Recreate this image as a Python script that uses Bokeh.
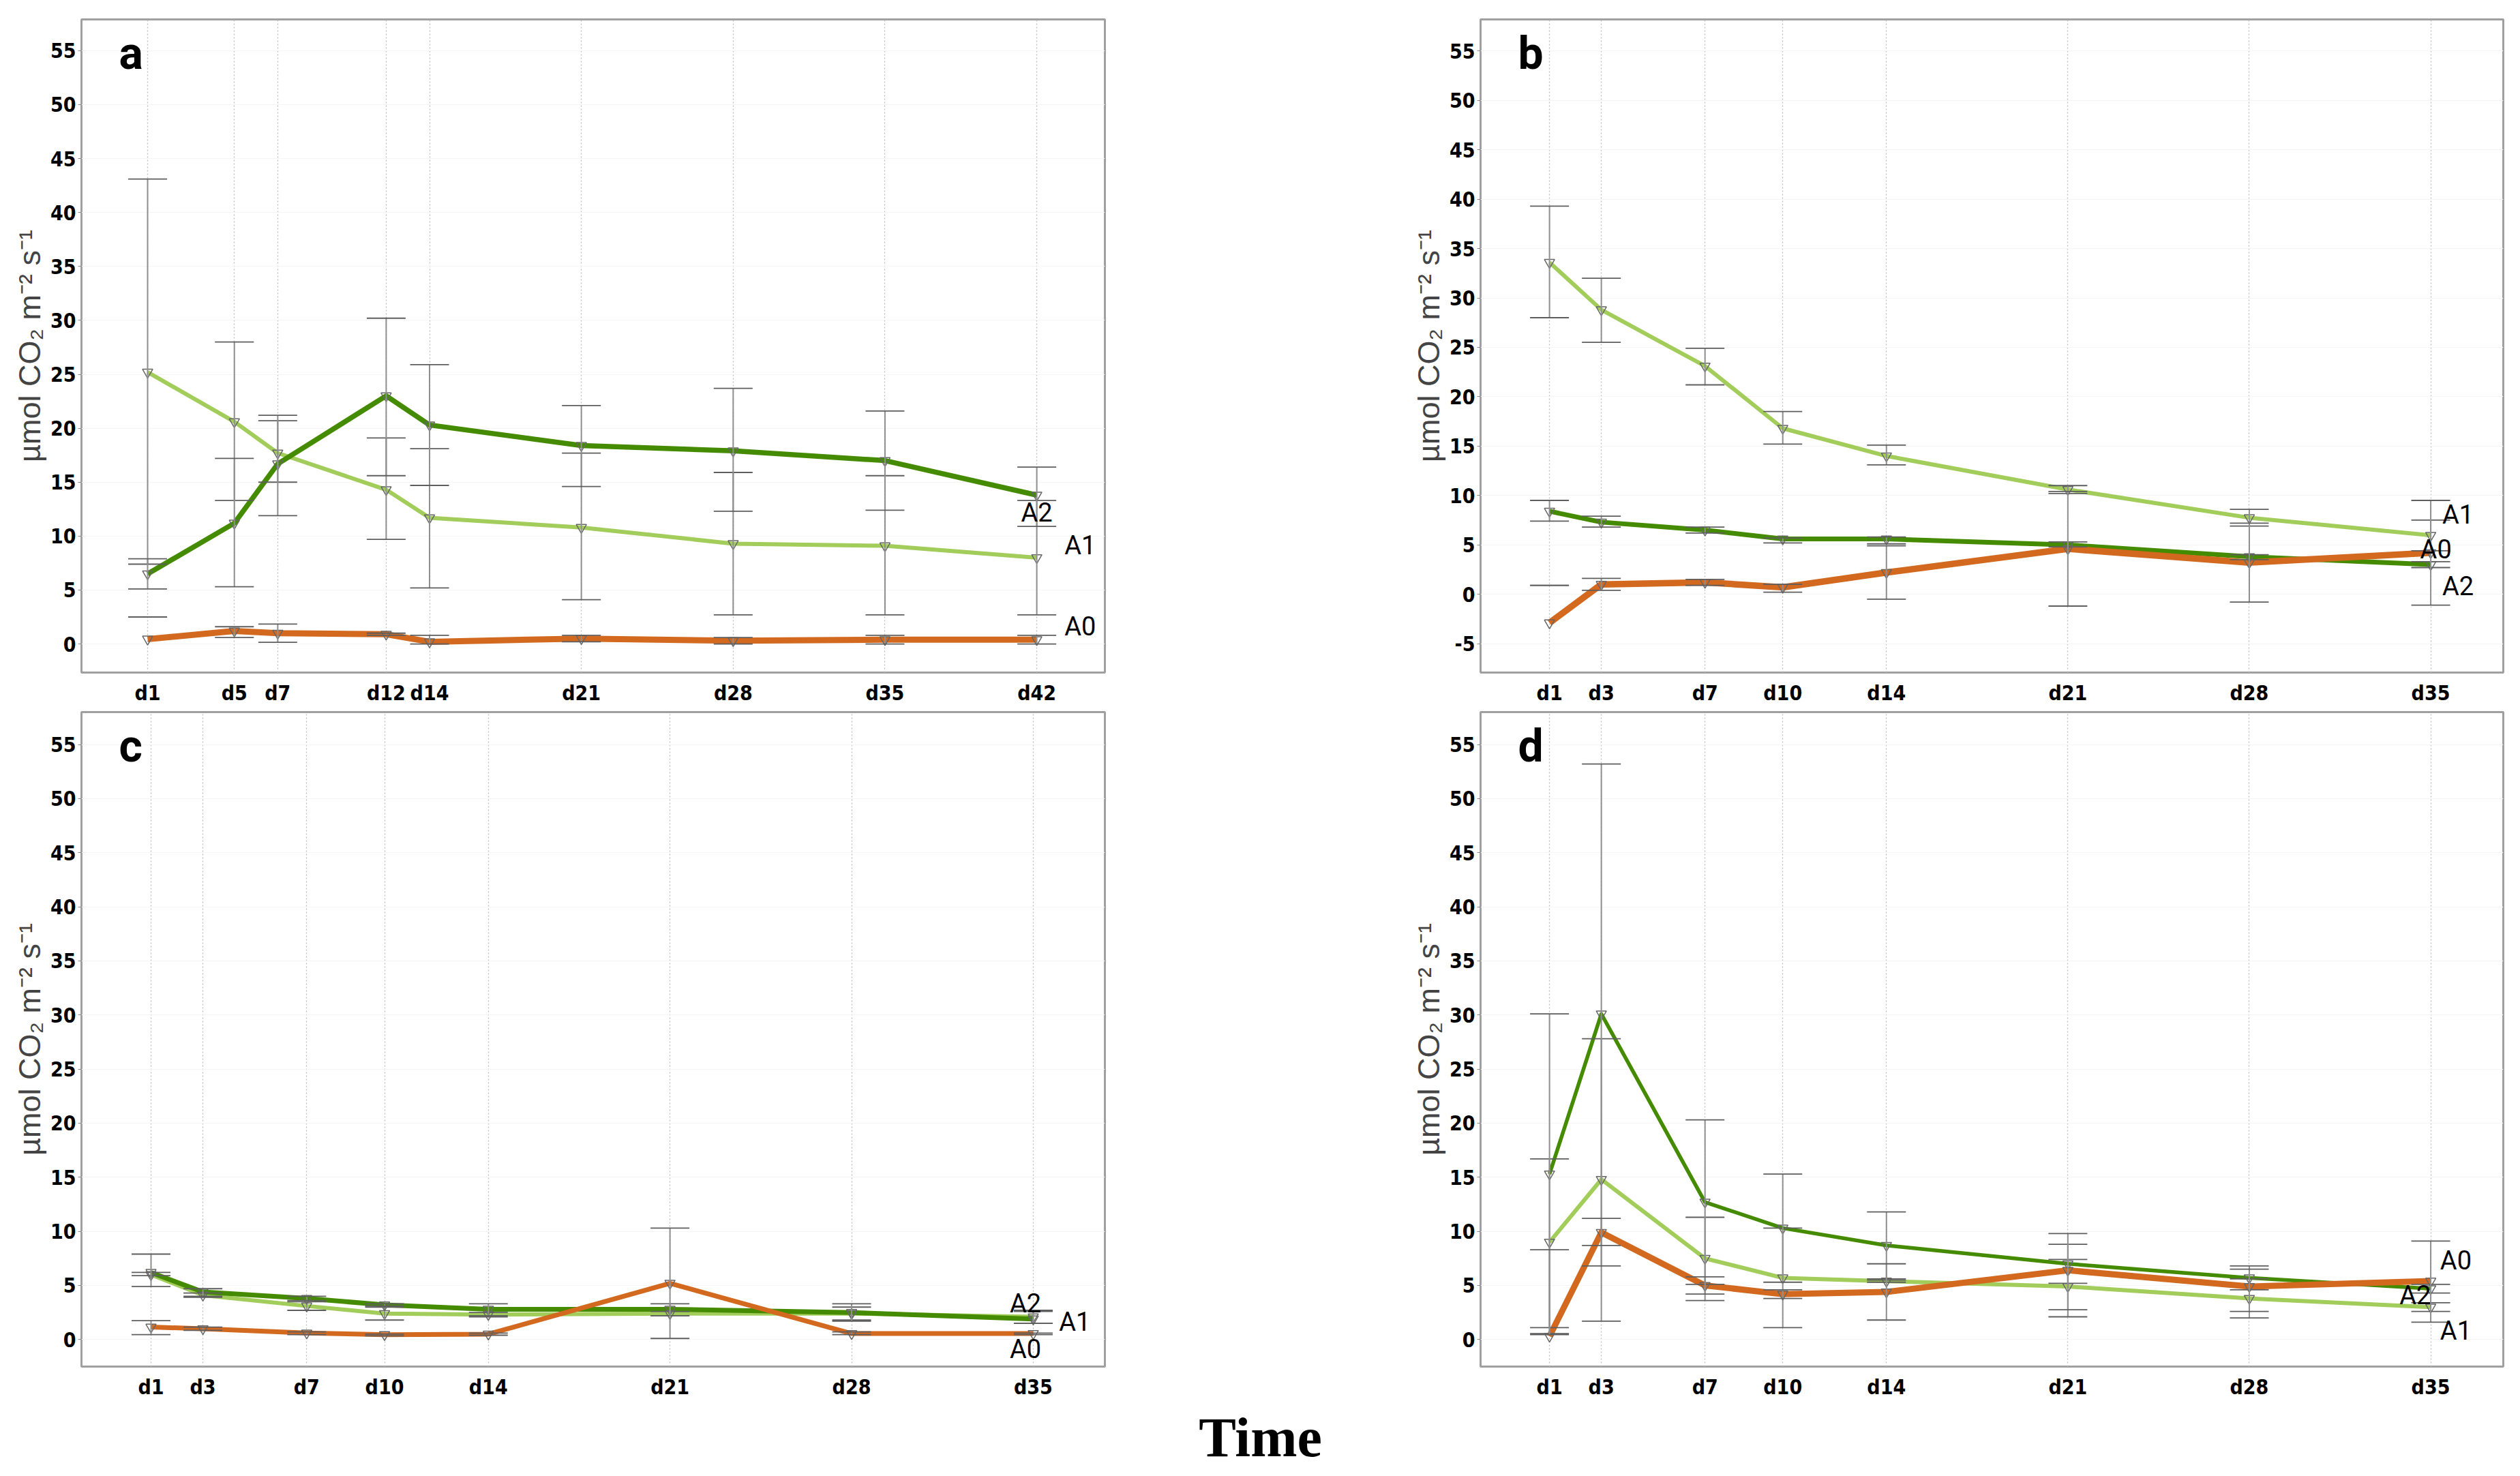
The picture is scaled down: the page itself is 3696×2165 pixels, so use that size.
from bokeh.plotting import figure
from bokeh.models import Range1d, FixedTicker, Label, ColumnDataSource
from bokeh.layouts import column, row
from bokeh.embed import file_html
from bokeh.resources import INLINE
from bokeh.core.properties import value

# ---- data (means and error-bar ends) ----
days_a = [1, 5, 7, 12, 14, 21, 28, 35, 42]
a_A0 = [0.45, 1.2, 1.0, 0.9, 0.2, 0.5, 0.3, 0.4, 0.4]
a_A0_lo = [2.5, 0.6, 0.15, 0.8, 0.0, 0.2, 0.0, 0.0, 0.0]
a_A0_hi = [2.5, 1.6, 1.85, 1.0, 0.8, 0.8, 0.6, 0.8, 0.8]
a_A1 = [25.2, 20.6, 17.7, 14.3, 11.7, 10.8, 9.3, 9.1, 8.0]
a_A1_lo = [7.4, 13.3, 15.0, 9.7, 5.2, 4.1, 2.7, 2.7, 2.7]
a_A1_hi = [43.1, 28.0, 20.7, 19.1, 18.1, 17.7, 15.9, 15.6, 13.3]
a_A2 = [6.5, 11.2, 16.7, 23.0, 20.3, 18.4, 17.9, 17.0, 13.8]
a_A2_lo = [5.1, 5.3, 11.9, 15.6, 14.7, 14.6, 12.3, 12.4, 10.9]
a_A2_hi = [7.9, 17.2, 21.2, 30.2, 25.9, 22.1, 23.7, 21.6, 16.4]

days_b = [1, 3, 7, 10, 14, 21, 28, 35]
b_A0 = [-2.9, 1.0, 1.2, 0.7, 2.2, 4.6, 3.2, 4.2]
b_A0_lo = [0.9, 0.4, 0.9, 0.2, -0.5, -1.2, -0.8, -1.1]
b_A0_hi = [0.9, 1.6, 1.5, 1.0, 4.9, 10.4, 7.2, 9.5]
b_A1 = [33.6, 28.8, 23.1, 16.8, 14.0, 10.6, 7.75, 5.96]
b_A1_lo = [28.0, 25.5, 21.2, 15.2, 13.1, 10.2, 6.9, 4.4]
b_A1_hi = [39.3, 32.0, 24.9, 18.5, 15.1, 11.0, 8.6, 7.5]
b_A2 = [8.4, 7.3, 6.5, 5.6, 5.6, 5.0, 3.8, 3.0]
b_A2_lo = [7.4, 6.8, 6.2, 5.2, 5.1, 4.8, 3.5, 2.7]
b_A2_hi = [9.5, 7.9, 6.8, 5.7, 5.8, 5.3, 4.0, 3.3]

days_c = [1, 3, 7, 10, 14, 21, 28, 35]
c_A0 = [1.15, 1.0, 0.6, 0.45, 0.5, 5.2, 0.55, 0.55]
c_A0_lo = [0.45, 0.85, 0.45, 0.35, 0.4, 0.1, 0.45, 0.45]
c_A0_hi = [1.75, 1.15, 0.7, 0.5, 0.6, 10.3, 0.7, 0.6]
c_A1 = [6.0, 4.1, 3.1, 2.4, 2.3, 2.4, 2.4, 2.1]
c_A1_lo = [5.9, 3.9, 2.7, 1.8, 2.1, 2.2, 1.8, 1.5]
c_A1_hi = [6.2, 4.3, 3.5, 3.0, 2.5, 2.6, 3.0, 2.7]
c_A2 = [6.2, 4.4, 3.8, 3.2, 2.8, 2.8, 2.5, 1.9]
c_A2_lo = [4.9, 4.0, 3.6, 3.1, 2.2, 2.2, 1.7, 1.5]
c_A2_hi = [7.9, 4.7, 4.0, 3.3, 3.3, 3.3, 3.3, 2.6]

days_d = [1, 3, 7, 10, 14, 21, 28, 35]
d_A0 = [0.3, 9.9, 5.0, 4.2, 4.4, 6.4, 4.9, 5.4]
d_A0_lo = [0.45, 8.7, 4.2, 3.8, 1.8, 2.75, 2.6, 1.6]
d_A0_hi = [8.3, 11.2, 5.8, 4.6, 7.0, 9.8, 6.5, 9.1]
d_A1 = [9.0, 14.8, 7.5, 5.7, 5.4, 4.9, 3.8, 3.0]
d_A1_lo = [1.1, 1.7, 3.6, 1.1, 5.3, 2.1, 2.0, 2.6]
d_A1_hi = [16.7, 27.8, 11.3, 10.3, 5.5, 7.4, 5.6, 3.4]
d_A2 = [15.3, 30.1, 12.7, 10.3, 8.7, 7.0, 5.7, 4.7]
d_A2_lo = [0.55, 6.8, 5.1, 5.3, 5.6, 5.2, 4.6, 4.3]
d_A2_hi = [30.1, 53.2, 20.3, 15.3, 11.8, 8.8, 6.8, 5.1]

series_names = ["A1", "A2", "A0"]   # drawing order, orange on top
colors = {"A0": "#d2691e", "A1": "#a2cd5a", "A2": "#458b00"}

TICK_FONT = "DejaVu Sans Condensed"
NOTE_FONT = "Roboto"
YLABEL = "\u00b5mol CO\u2082 m\u207b\u00b2 s\u207b\u00b9"


def make_panel(letter, days, data, xr, yr, yticks, size, borders, widths, label_off):
    w, h = size
    bl, br, bt, bb = borders
    p = figure(width=w, height=h, min_border_left=bl, min_border_right=br,
               min_border_top=bt, min_border_bottom=bb, x_range=Range1d(*xr), y_range=Range1d(*yr),
               title=None, output_backend="svg", toolbar_location=None,
               background_fill_color="white", border_fill_color="white")
    p.outline_line_color = "#a0a0a0"
    p.outline_line_width = 3

    p.xaxis.ticker = FixedTicker(ticks=days)
    p.xaxis.major_label_overrides = {d: "d%d" % d for d in days}
    p.yaxis.ticker = FixedTicker(ticks=yticks)
    p.yaxis.major_label_overrides = {t: "%d" % t for t in yticks}
    for ax in (p.xaxis[0], p.yaxis[0]):
        ax.axis_line_color = None
        ax.minor_tick_line_color = None
        ax.major_label_text_font = TICK_FONT
        ax.major_label_text_font_style = "bold"
        ax.major_label_text_font_size = "30px"
        ax.major_label_text_color = "black"
    p.xaxis.major_tick_line_color = None
    p.xaxis.major_label_standoff = 6
    p.yaxis.major_tick_out = 5
    p.yaxis.major_tick_in = 0
    p.yaxis.major_tick_line_color = "#888888"
    p.yaxis.major_label_standoff = 3
    p.yaxis.axis_label = YLABEL
    p.yaxis.axis_label_text_font = "Liberation Sans"
    p.yaxis.axis_label_text_font_style = "normal"
    p.yaxis.axis_label_text_font_size = "45px"
    p.yaxis.axis_label_standoff = 2

    p.xgrid.grid_line_color = "#bdbdbd"
    p.xgrid.grid_line_dash = "2 3"
    p.xgrid.grid_line_width = 1.3
    p.ygrid.grid_line_color = "#f5f5f5"
    p.ygrid.grid_line_width = 1

    for name in series_names:
        mean, lo, hi = data[name]
        src = ColumnDataSource(dict(x=days, y=mean))
        p.line("x", "y", source=src, line_color=colors[name], line_width=widths[name],
               line_join="round")
    for name in series_names:
        mean, lo, hi = data[name]
        src = ColumnDataSource(dict(x=days, y=mean, lo=lo, hi=hi))
        p.scatter("x", "y", source=src, marker="inverted_triangle", size=15,
                  fill_color=None, line_color="#666666", line_width=1.5)
        p.segment("x", "lo", "x", "hi", source=src, line_color="#8f8f8f", line_width=2.0)
        p.scatter("x", "lo", source=src, marker="dash", size=57, line_color="#5e5e5e", line_width=1.8)
        p.scatter("x", "hi", source=src, marker="dash", size=57, line_color="#5e5e5e", line_width=1.8)

    # end-of-line treatment labels
    lx, ly, lt = [], [], []
    for name in ["A0", "A1", "A2"]:
        dx, dy = label_off[name]
        lx.append(days[-1] + dx)
        ly.append(data[name][0][-1] + dy)
        lt.append(name)
    p.text(x=lx, y=ly, text=lt, text_font=value(NOTE_FONT), text_font_size="38px",
           text_align="center", text_baseline="middle", text_color="black")

    # panel letter
    fw = w - bl - br
    fh = h - bt - bb
    sx = (xr[1] - xr[0]) / fw
    sy = (yr[1] - yr[0]) / fh
    p.add_layout(Label(x=xr[0] + 55 * sx, y=yr[1] - 50 * sy, text=letter,
                       text_font=NOTE_FONT, text_font_style="bold", text_font_size="66px",
                       text_baseline="middle", text_color="black"))
    return p


pa = make_panel("a", days_a,
                {"A0": (a_A0, a_A0_lo, a_A0_hi), "A1": (a_A1, a_A1_lo, a_A1_hi), "A2": (a_A2, a_A2_lo, a_A2_hi)},
                (-2.05, 45.14), (-2.65, 57.9), list(range(0, 60, 5)),
                (1658, 1036), (119, 38, 28, 49),
                {"A0": 9, "A1": 6, "A2": 7.5},
                {"A2": (0, -1.6), "A1": (2.0, 1.15), "A0": (2.0, 1.2)})
pb = make_panel("b", days_b,
                {"A0": (b_A0, b_A0_lo, b_A0_hi), "A1": (b_A1, b_A1_lo, b_A1_hi), "A2": (b_A2, b_A2_lo, b_A2_hi)},
                (-1.66, 37.8), (-7.93, 58.2), list(range(-5, 60, 5)),
                (2030, 1036), (513, 17, 28, 49),
                {"A0": 9.5, "A1": 6, "A2": 7},
                {"A1": (1.05, 2.1), "A0": (0.2, 0.3), "A2": (1.05, -2.2)})
pc = make_panel("c", days_c,
                {"A0": (c_A0, c_A0_lo, c_A0_hi), "A1": (c_A1, c_A1_lo, c_A1_hi), "A2": (c_A2, c_A2_lo, c_A2_hi)},
                (-1.68, 37.76), (-2.5, 58.0), list(range(0, 60, 5)),
                (1658, 1018), (119, 38, 8, 50),
                {"A0": 7, "A1": 6, "A2": 7},
                {"A2": (-0.3, 1.4), "A1": (1.6, -0.5), "A0": (-0.3, -1.45)})
pd_ = make_panel("d", days_d,
                 {"A0": (d_A0, d_A0_lo, d_A0_hi), "A1": (d_A1, d_A1_lo, d_A1_hi), "A2": (d_A2, d_A2_lo, d_A2_hi)},
                 (-1.66, 37.8), (-2.5, 58.0), list(range(0, 60, 5)),
                 (2030, 1018), (513, 17, 7, 46),
                 {"A0": 9, "A1": 6, "A2": 5.5},
                 {"A0": (0.97, 1.9), "A2": (-0.6, -0.6), "A1": (0.97, -2.2)})

# shared x-axis title underneath
pt = figure(width=3688, height=108, min_border=0, x_range=Range1d(0, 1), y_range=Range1d(0, 108),
            title=None, output_backend="svg", toolbar_location=None)
pt.axis.visible = False
pt.grid.visible = False
pt.outline_line_color = None
pt.add_layout(Label(x=1848 / 3688, y=54, text="Time", text_font="Liberation Serif", text_font_style="bold",
                    text_font_size="82px", text_align="center", text_baseline="middle",
                    text_color="black"))

layout = column(row(pa, pb), row(pc, pd_), pt)
open("out.html", "w").write(file_html(layout, INLINE))
